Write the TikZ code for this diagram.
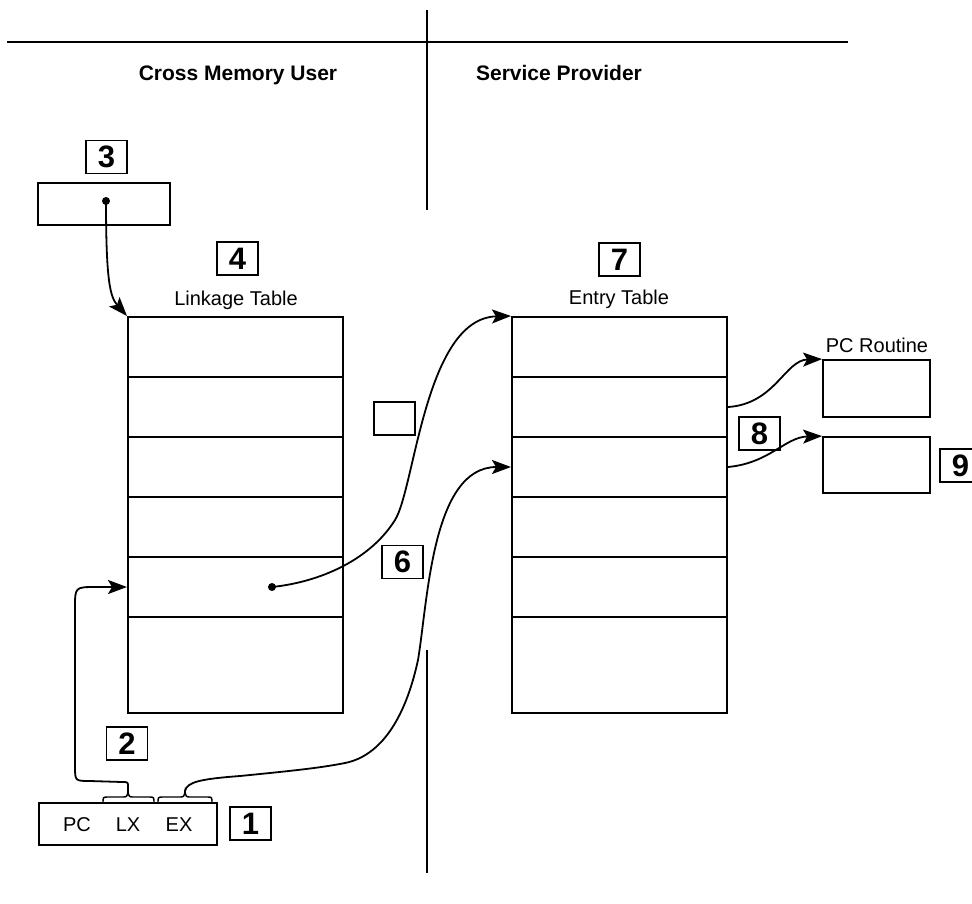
\documentclass[tikz,border=0pt]{standalone}
\usepackage{fontspec}
\setmainfont{Liberation Sans}
\usetikzlibrary{arrows.meta}
\begin{document}
\begin{tikzpicture}[x=1pt,y=-1pt,
  numbox/.style={draw,line width=1.8pt,minimum width=41pt,minimum height=33pt,inner sep=0pt,font=\fontsize{31}{33}\selectfont\bfseries},
  lbl/.style={inner sep=0pt,anchor=base,font=\fontsize{20}{22}\selectfont},
  head/.style={inner sep=0pt,anchor=base,font=\fontsize{21}{23}\selectfont\bfseries},
  cell/.style={draw,line width=2pt,minimum width=215pt,minimum height=60pt,inner sep=0pt},
  plainbox/.style={draw,line width=1.8pt,inner sep=0pt},
  link/.style={line width=1.8pt,-{Stealth[length=19pt,width=14pt,inset=4pt]}},
  rule/.style={line width=2.4pt},
  dotc/.style={circle,fill,inner sep=0pt,minimum size=8pt}
]
\path[use as bounding box] (0,0) rectangle (972,903);

% dividers
\draw[rule] (7,42) -- (848,42);
\draw[line width=1.6pt] (427,10) -- (427,210);
\draw[line width=1.6pt] (427,650) -- (427,873);
\node[head] (hu) at (238,80) {Cross Memory User};
\node[head] (hp) at (559,80) {Service Provider};

% box 3
\node[numbox] (n3) at (106.5,157) {3};
\node[plainbox,minimum width=132pt,minimum height=42pt] (b3) at (104,204) {};
\node[dotc] (d3) at (106,201) {};

% linkage table
\node[numbox] (n4) at (237.5,258.5) {4};
\node[lbl] (lt) at (236,305) {Linkage Table};
\node[cell] (L1) at (235.5,347) {};
\node[cell] (L2) at (235.5,407) {};
\node[cell] (L3) at (235.5,467) {};
\node[cell] (L4) at (235.5,527) {};
\node[cell] (L5) at (235.5,587) {};
\node[cell,minimum height=96pt] (L6) at (235.5,665) {};
\node[dotc] (d5) at (272,587) {};

% entry table
\node[numbox] (n7) at (619.5,259.5) {7};
\node[lbl] (et) at (619,304) {Entry Table};
\node[cell] (E1) at (619.5,347) {};
\node[cell] (E2) at (619.5,407) {};
\node[cell] (E3) at (619.5,467) {};
\node[cell] (E4) at (619.5,527) {};
\node[cell] (E5) at (619.5,587) {};
\node[cell,minimum height=96pt] (E6) at (619.5,665) {};

% small box and 6
\node[plainbox,minimum width=41pt,minimum height=33pt] (sb) at (394.5,418.5) {};
\node[numbox] (n6) at (402.5,562) {6};

% PC routine
\node[lbl] (pcrl) at (877,352) {PC Routine};
\node[plainbox,minimum width=107pt,minimum height=57pt] (pcr) at (876.5,388.5) {};
\node[plainbox,minimum width=107pt,minimum height=56pt] (r9) at (876.5,465) {};
\node[numbox] (n8) at (759.5,433.5) {8};
\node[numbox] (n9) at (960.5,465.5) {9};

% instruction box
\node[numbox] (n2) at (127,743.5) {2};
\node[plainbox,minimum width=178pt,minimum height=42pt] (ins) at (128,824) {};
\node[lbl] (pc) at (77,831) {PC};
\node[lbl] (lx) at (128,831) {LX};
\node[lbl] (ex) at (179,831) {EX};
\node[numbox] (n1) at (250.5,823.5) {1};

% braces
\coordinate (lxtip) at (128,791);
\coordinate (extip) at (185,791);
\draw[line width=1.4pt] (103,803) .. controls (103,797) .. (108,797) -- (122,797)
  .. controls (127,797) .. (lxtip) .. controls (129,797) .. (134,797) -- (149,797)
  .. controls (154,797) .. (154,803);
\draw[line width=1.4pt] (158,803) .. controls (158,797) .. (163,797) -- (179,797)
  .. controls (184,797) .. (extip) .. controls (186,797) .. (191,797) -- (207,797)
  .. controls (212,797) .. (212,803);

% connectors
\draw[link] (d3.center) .. controls (106,280) and (110,297) .. (L1.north west);
\draw[link] (d5.center) .. controls (320,582) and (370,560) .. (395,520)
  .. controls (415,488) and (425,318) .. (E1.north west);
\draw[link] (extip) .. controls (187,782) and (200,779) .. (240,776)
  .. controls (290,771) and (320,768) .. (345,763)
  .. controls (380,756) and (405,720) .. (418,660)
  .. controls (428,600) and (432,467) .. (E3.west);
\draw[link] (lxtip) -- (128,787) .. controls (128,782) .. (122,782) -- (90,781)
  .. controls (75,781) .. (75,766) -- (75,608) .. controls (75,587) .. (96,587) -- (L5.west);
\draw[link] (E2.east) .. controls (775,404) and (785,360) .. (pcr.north west);
\draw[link] (E3.east) .. controls (770,463) and (785,437) .. (r9.north west);
\end{tikzpicture}
\end{document}
